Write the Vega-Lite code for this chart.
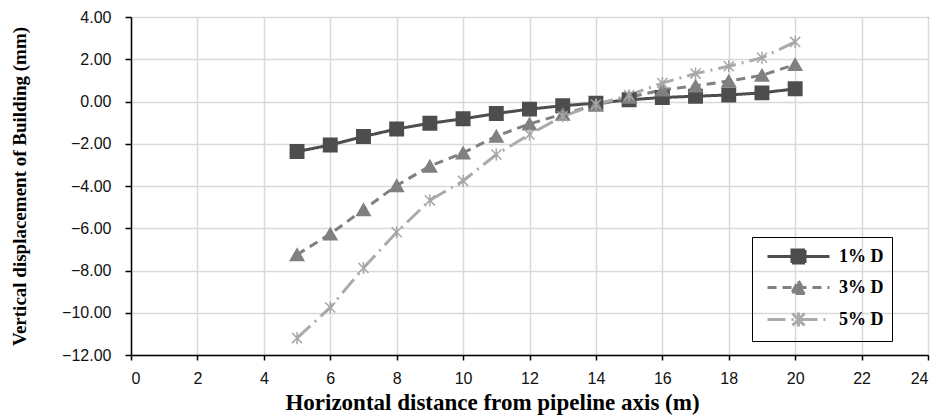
{
  "$schema": "https://vega.github.io/schema/vega-lite/v6.json",
  "autosize": {"type": "none"},
  "width": 797,
  "height": 338,
  "padding": {"left": 131, "top": 17, "right": 14, "bottom": 65},
  "background": "white",
  "config": {
    "view": {"stroke": "#222", "strokeWidth": 1},
    "axis": {
      "grid": true,
      "gridColor": "#d9d9d9",
      "gridWidth": 1.5,
      "domainColor": "#000",
      "domainWidth": 1.5,
      "tickColor": "#000",
      "tickWidth": 1.5,
      "labelFont": "Liberation Sans",
      "labelFontSize": 15,
      "labelColor": "#111",
      "titleFont": "Liberation Serif",
      "titleFontWeight": "bold",
      "titleColor": "#000"
    }
  },
  "data": {
    "values": [
      {"series": "1% D", "x": 5, "y": -2.37},
      {"series": "1% D", "x": 6, "y": -2.06},
      {"series": "1% D", "x": 7, "y": -1.66},
      {"series": "1% D", "x": 8, "y": -1.3},
      {"series": "1% D", "x": 9, "y": -1.03},
      {"series": "1% D", "x": 10, "y": -0.82},
      {"series": "1% D", "x": 11, "y": -0.57},
      {"series": "1% D", "x": 12, "y": -0.36},
      {"series": "1% D", "x": 13, "y": -0.2},
      {"series": "1% D", "x": 14, "y": -0.08},
      {"series": "1% D", "x": 15, "y": 0.08},
      {"series": "1% D", "x": 16, "y": 0.19},
      {"series": "1% D", "x": 17, "y": 0.25},
      {"series": "1% D", "x": 18, "y": 0.31},
      {"series": "1% D", "x": 19, "y": 0.41},
      {"series": "1% D", "x": 20, "y": 0.6},
      {"series": "3% D", "x": 5, "y": -7.25},
      {"series": "3% D", "x": 6, "y": -6.27},
      {"series": "3% D", "x": 7, "y": -5.12},
      {"series": "3% D", "x": 8, "y": -3.98},
      {"series": "3% D", "x": 9, "y": -3.06},
      {"series": "3% D", "x": 10, "y": -2.43},
      {"series": "3% D", "x": 11, "y": -1.64},
      {"series": "3% D", "x": 12, "y": -1.06},
      {"series": "3% D", "x": 13, "y": -0.6},
      {"series": "3% D", "x": 14, "y": -0.17},
      {"series": "3% D", "x": 15, "y": 0.2},
      {"series": "3% D", "x": 16, "y": 0.55},
      {"series": "3% D", "x": 17, "y": 0.74},
      {"series": "3% D", "x": 18, "y": 0.97},
      {"series": "3% D", "x": 19, "y": 1.24},
      {"series": "3% D", "x": 20, "y": 1.75},
      {"series": "5% D", "x": 5, "y": -11.2},
      {"series": "5% D", "x": 6, "y": -9.75},
      {"series": "5% D", "x": 7, "y": -7.88},
      {"series": "5% D", "x": 8, "y": -6.19},
      {"series": "5% D", "x": 9, "y": -4.68},
      {"series": "5% D", "x": 10, "y": -3.76},
      {"series": "5% D", "x": 11, "y": -2.51},
      {"series": "5% D", "x": 12, "y": -1.56},
      {"series": "5% D", "x": 13, "y": -0.7},
      {"series": "5% D", "x": 14, "y": -0.14},
      {"series": "5% D", "x": 15, "y": 0.3},
      {"series": "5% D", "x": 16, "y": 0.87},
      {"series": "5% D", "x": 17, "y": 1.32},
      {"series": "5% D", "x": 18, "y": 1.67},
      {"series": "5% D", "x": 19, "y": 2.07},
      {"series": "5% D", "x": 20, "y": 2.82}
    ]
  },
  "encoding": {
    "x": {
      "field": "x", "type": "quantitative",
      "scale": {"domain": [0, 24], "nice": false},
      "axis": {
        "values": [0, 2, 4, 6, 8, 10, 12, 14, 16, 18, 20, 22, 24],
        "title": "Horizontal distance from pipeline axis (m)",
        "titleFontSize": 23,
        "titlePadding": 5,
        "titleX": 361,
        "tickSize": 5,
        "labelPadding": 10,
        "labelFontSize": 16
      }
    },
    "y": {
      "field": "y", "type": "quantitative",
      "scale": {"domain": [-12, 4], "nice": false},
      "axis": {
        "values": [-12, -10, -8, -6, -4, -2, 0, 2, 4],
        "format": ".2f",
        "title": "Vertical displacement of Building (mm)",
        "titleFontSize": 19,
        "titlePadding": 32,
        "tickSize": 6,
        "labelPadding": 14,
        "labelFontSize": 16
      }
    }
  },
  "layer": [
    {
      "mark": {"type": "line", "strokeWidth": 3},
      "encoding": {
        "color": {
          "field": "series", "type": "nominal",
          "scale": {"domain": ["1% D", "3% D", "5% D"], "range": ["#4d4d4d", "#808080", "#ababab"]},
          "legend": {
            "title": null,
            "orient": "none",
            "legendX": 621,
            "legendY": 220,
            "strokeColor": "#000",
            "padding": 8,
            "symbolType": "stroke",
            "symbolSize": 400,
            "symbolStrokeWidth": 3,
            "rowPadding": 6,
            "labelOffset": 56,
            "labelFont": "Liberation Serif",
            "labelFontWeight": "bold",
            "labelFontSize": 18,
            "labelColor": "#000",
            "encode": {
              "symbols": {
                "update": {
                  "shape": {"signal": "datum.value === '1% D' ? 'M-0.4,0H5.8M2.05,-0.65H3.35V0.65H2.05Z' : datum.value === '3% D' ? 'M-0.4,0H5.8M2.7,-0.65L3.4,0.6H2Z' : 'M-0.4,0H5.8M2.1,-0.6L3.3,0.6M2.1,0.6L3.3,-0.6M2.7,-0.7V0.7'"},
                  "fill": {"signal": "datum.value === '1% D' ? '#4d4d4d' : datum.value === '3% D' ? '#808080' : 'transparent'"},
                  "strokeDash": {"signal": "datum.value === '1% D' ? [1, 0] : datum.value === '3% D' ? [14, 5] : [22, 8, 2, 6]"}
                }
              }
            }
          }
        },
        "strokeDash": {
          "field": "series", "type": "nominal",
          "scale": {"domain": ["1% D", "3% D", "5% D"], "range": [[1, 0], [9, 6], [18, 6, 2, 6]]},
          "legend": null
        }
      }
    },
    {
      "transform": [{"calculate": "datum.series", "as": "marker"}],
      "mark": {"type": "point", "filled": true, "opacity": 1, "size": 180, "strokeWidth": 1.5},
      "encoding": {
        "fill": {
          "field": "marker", "type": "nominal",
          "scale": {"range": ["#4d4d4d", "#808080", "#a6a6a6"]},
          "legend": null
        },
        "stroke": {
          "field": "marker", "type": "nominal",
          "scale": {"range": ["#4d4d4d", "#808080", "#a6a6a6"]},
          "legend": null
        },
        "shape": {
          "field": "marker", "type": "nominal",
          "scale": {"range": ["square", "triangle-up", "M-0.75,-0.75L0.75,0.75M-0.75,0.75L0.75,-0.75M0,-0.9V0.9"]},
          "legend": null
        }
      }
    }
  ]
}
